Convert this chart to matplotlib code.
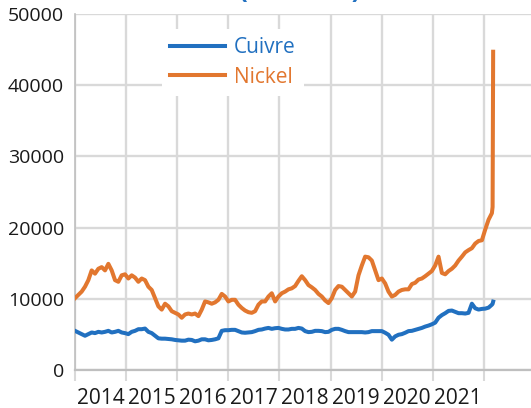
"""
Cours du cuivre et du nickel (€/tonne), 2014 - mars 2022.
"""
import matplotlib
matplotlib.use("Agg")
import matplotlib.pyplot as plt
import matplotlib.dates as mdates
import pandas as pd

# --- données (environ toutes les 3 semaines) ---
debut, fin = "2014-01-01", "2022-02-27"

nickel = [10090, 10550, 11010, 11700, 12620, 13990, 13530, 14220, 14450, 13990,
          14910, 13990, 12620, 12390, 13300, 13440, 12850, 13300, 12980, 12390,
          12850, 12620, 11700, 11240, 10090, 8940, 8480, 9310, 8940, 8260,
          8030, 7800, 7340, 7800, 7930, 7800, 7930, 7570, 8480, 9630,
          9500, 9310, 9500, 9860, 10690, 10320, 9630, 9860, 9860, 9170,
          8710, 8350, 8120, 8030, 8260, 9170, 9630, 9630, 10320, 10780,
          9630, 10320, 10780, 11010, 11330, 11470, 11790, 12520, 13170, 12620,
          11930, 11610, 11240, 10690, 10320, 9770, 9400, 10090, 11240, 11790,
          11700, 11240, 10780, 10320, 11010, 13300, 14680, 15920, 15830, 15370,
          13990, 12620, 12850, 12160, 11010, 10320, 10550, 11010, 11240, 11330,
          11330, 12070, 12250, 12710, 12850, 13170, 13530, 13900, 14680, 15920,
          13630, 13440, 13900, 14220, 14680, 15370, 15920, 16520, 16840, 17110,
          17760, 18120, 18220, 19730, 21110, 22030]

cuivre = [5500, 5270, 5040, 4810, 5040, 5270, 5180, 5360, 5270, 5360,
          5500, 5270, 5360, 5500, 5270, 5180, 5040, 5360, 5500, 5730,
          5730, 5820, 5360, 5180, 4810, 4450, 4400, 4400, 4350, 4310,
          4220, 4170, 4120, 4120, 4260, 4220, 4030, 4120, 4310, 4310,
          4170, 4220, 4310, 4450, 5500, 5590, 5590, 5640, 5640, 5460,
          5270, 5230, 5270, 5320, 5460, 5640, 5690, 5820, 5910, 5780,
          5870, 5910, 5780, 5690, 5690, 5780, 5780, 5910, 5820, 5460,
          5320, 5360, 5500, 5500, 5460, 5320, 5360, 5640, 5780, 5780,
          5640, 5460, 5320, 5320, 5320, 5320, 5320, 5270, 5320, 5460,
          5460, 5460, 5460, 5230, 4950, 4260, 4720, 4950, 5040, 5230,
          5460, 5500, 5640, 5780, 5910, 6100, 6240, 6420, 6650, 7340,
          7710, 7980, 8300, 8350, 8160, 7980, 7980, 7930, 8030, 9310,
          8670, 8490, 8580, 8620, 8760, 9170]

# envolée du nickel au LME début mars 2022
dates_fin = ["2022-03-04", "2022-03-08"]
nickel_fin = [22900, 44700]
cuivre_fin = [9300, 9600]

annees = list(range(2014, 2022))
bleu, orange = "#2170C0", "#E2772F"
gris_grille, gris_axe = "#D9D9D9", "#BFBFBF"

plt.rcParams["font.family"] = ["Open Sans", "DejaVu Sans"]

dates = list(pd.date_range(debut, fin, periods=len(nickel))) + list(pd.to_datetime(dates_fin))
serie_nickel = nickel + nickel_fin
serie_cuivre = cuivre + cuivre_fin

fig = plt.figure(figsize=(5.31, 4.08), dpi=100)
ax = fig.add_axes([75 / 531, 38 / 408, 460 / 531, 356 / 408])

ax.plot(dates, serie_cuivre, color=bleu, lw=2.9, label="Cuivre", zorder=3)
ax.plot(dates, serie_nickel, color=orange, lw=2.9, label="Nickel", zorder=3)

ax.set_ylim(0, 50000)
ax.set_yticks(range(0, 50001, 10000))
ax.set_xlim(pd.Timestamp("2014-01-01"), pd.Timestamp("2023-01-01"))

# grille aux changements d'année, étiquettes au milieu de l'année
ax.xaxis.set_major_locator(mdates.YearLocator())
ax.xaxis.set_major_formatter(plt.NullFormatter())
ax.xaxis.set_minor_locator(plt.FixedLocator(
    [mdates.date2num(pd.Timestamp(f"{a}-07-02")) for a in annees]))
ax.xaxis.set_minor_formatter(plt.FixedFormatter([str(a) for a in annees]))
ax.tick_params(axis="x", which="major", length=8, width=1.5, color=gris_grille)
ax.tick_params(axis="x", which="minor", length=0, pad=13, labelsize=15,
               labelcolor="#1A1A1A")
ax.tick_params(axis="y", length=0, pad=8, labelsize=14, labelcolor="#1A1A1A")

ax.grid(True, which="major", color=gris_grille, lw=1.7, zorder=0)
ax.set_axisbelow(True)
for cote in ["top", "right"]:
    ax.spines[cote].set_visible(False)
ax.spines["left"].set_color(gris_axe)
ax.spines["left"].set_linewidth(1.2)
ax.spines["bottom"].set_color(gris_axe)
ax.spines["bottom"].set_linewidth(1.6)

leg = ax.legend(loc="upper left", bbox_to_anchor=(162 / 531, 1 - 29 / 408),
                bbox_transform=fig.transFigure, fontsize=15, frameon=True,
                facecolor="white", edgecolor="none", framealpha=1,
                handlelength=2.6, handletextpad=0.45, labelspacing=0.4,
                borderpad=0.4, borderaxespad=0, labelcolor="linecolor")
leg.get_frame().set_boxstyle("square", pad=0)

# titre en grande partie hors cadre, comme dans l'original
fig.text(300 / 531, 1 + 2.5 / 408, "(€/tonne)", ha="center", va="baseline",
         fontsize=19, fontweight="bold", color=bleu)

plt.savefig("out.png", dpi=100)
